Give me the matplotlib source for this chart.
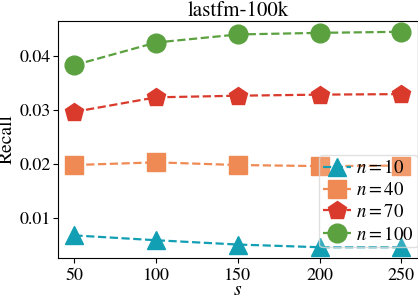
import matplotlib
matplotlib.use("Agg")
import matplotlib.pyplot as plt

plt.rcParams['font.family'] = 'STIXGeneral'
plt.rcParams['mathtext.fontset'] = 'stix'

s = [50, 100, 150, 200, 250]
recall_n10 = [0.0067, 0.0058, 0.0050, 0.0045, 0.0045]
recall_n40 = [0.0198, 0.0203, 0.0198, 0.0196, 0.0197]
recall_n70 = [0.0297, 0.0324, 0.0327, 0.0329, 0.0330]
recall_n100 = [0.0384, 0.0426, 0.0441, 0.0444, 0.0446]
labels = ['$n=10$', '$n=40$', '$n=70$', '$n=100$']

fig, ax = plt.subplots(figsize=(4.18, 3.0), dpi=100)
fig.subplots_adjust(left=0.139, right=0.999, top=0.93, bottom=0.14)

ax.plot(s, recall_n10, '--', marker='^', color='#129fb4', ms=13.5, lw=1.6, label=labels[0])
ax.plot(s, recall_n40, '--', marker='s', color='#ef8a54', ms=13.5, lw=1.6, label=labels[1])
ax.plot(s, recall_n70, '--', marker='p', color='#d93a2b', ms=13.5, lw=1.6, label=labels[2])
ax.plot(s, recall_n100, '--', marker='o', color='#5ba140', ms=13.5, lw=1.6, label=labels[3])

ax.set_title('lastfm-100k', fontsize=15, pad=3)
ax.set_xlabel('$s$', fontsize=14, labelpad=-1.5)
ax.set_ylabel('Recall', fontsize=14)
ax.yaxis.set_label_coords(-0.118, 0.5)
ax.set_xticks(s)
ax.set_yticks([0.01, 0.02, 0.03, 0.04])
ax.tick_params(labelsize=13)
ax.tick_params(axis='y', pad=1.5)
leg = ax.legend(loc='lower right', bbox_to_anchor=(1.0, 0.045), fontsize=13.5,
                borderaxespad=0.0, handlelength=1.5, handletextpad=0.3,
                labelspacing=0.25, borderpad=0.2)
frame = leg.get_frame()
frame.set_alpha(None)
frame.set_facecolor((1, 1, 1, 0.15))
frame.set_edgecolor((0.85, 0.85, 0.85, 0.8))

fig.savefig('out.png', dpi=100)
